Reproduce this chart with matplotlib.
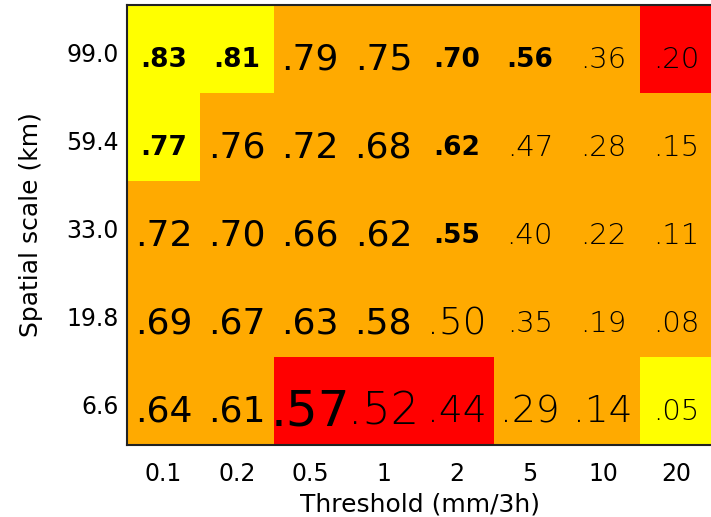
import matplotlib
matplotlib.use('Agg')
import matplotlib.pyplot as plt
import matplotlib.transforms as mtransforms
from matplotlib.colors import ListedColormap
import numpy as np

thresholds = ['0.1', '0.2', '0.5', '1', '2', '5', '10', '20']
scales = ['99.0', '59.4', '33.0', '19.8', '6.6']

# score table, rows from top (99.0 km) to bottom (6.6 km)
scores = [
    [.83, .81, .79, .75, .70, .56, .36, .20],
    [.77, .76, .72, .68, .62, .47, .28, .15],
    [.72, .70, .66, .62, .55, .40, .22, .11],
    [.69, .67, .63, .58, .50, .35, .19, .08],
    [.64, .61, .57, .52, .44, .29, .14, .05],
]

# cell class: 0 = yellow, 1 = orange, 2 = red
classes = [
    [0, 0, 1, 1, 1, 1, 1, 2],
    [0, 1, 1, 1, 1, 1, 1, 1],
    [1, 1, 1, 1, 1, 1, 1, 1],
    [1, 1, 1, 1, 1, 1, 1, 1],
    [1, 1, 2, 2, 2, 1, 1, 0],
]

# how each number is printed
label_kind = [
    ['B', 'B', 'L', 'L', 'B', 'B', 'T', 'T'],
    ['B', 'L', 'L', 'L', 'B', 'T', 'T', 'T'],
    ['L', 'L', 'L', 'L', 'B', 'T', 'T', 'T'],
    ['L', 'L', 'L', 'L', 'TL', 'T', 'T', 'T'],
    ['L', 'L', 'X', 'XT', 'TL', 'TL', 'TL', 'T'],
]

text_styles = {
    'B': dict(fontsize=19, fontweight='bold'),
    'L': dict(fontsize=26, fontweight='normal'),
    'T': dict(fontsize=21, fontweight='light'),
    'TL': dict(fontsize=27, fontweight='light'),
    'X': dict(fontsize=36, fontweight='normal'),
    'XT': dict(fontsize=32, fontweight='light'),
}


def fmt(v):
    return '{:.2f}'.format(v)[1:]


def createGraph():
    fig = plt.figure(figsize=(7.11, 5.17), dpi=100)
    ax = fig.add_axes([127 / 711, 72 / 517, 586 / 711, 440 / 517])

    cmap = ListedColormap(['#ffff00', '#ffaa00', '#ff0000'])
    ax.imshow(np.array(classes), cmap=cmap, vmin=-0.5, vmax=2.5,
              aspect='auto', interpolation='nearest')

    for i in range(len(scales)):
        for j in range(len(thresholds)):
            ax.text(j, i + 0.12, fmt(scores[i][j]), ha='center', va='center',
                    color='black', **text_styles[label_kind[i][j]])

    ax.set_xticks(range(len(thresholds)))
    ax.set_xticklabels(thresholds)
    ax.set_yticks(range(len(scales)))
    ax.set_yticklabels(scales)
    ax.tick_params(length=0, labelsize=17)
    ax.tick_params(axis='x', pad=12)
    ax.tick_params(axis='y', pad=6)
    # nudge the y labels down a little
    shift = mtransforms.ScaledTranslation(0, -0.03, fig.dpi_scale_trans)
    for t in ax.get_yticklabels():
        t.set_transform(t.get_transform() + shift)
    ax.set_xlim(-0.5, len(thresholds) - 0.5)
    ax.set_ylim(len(scales) - 0.5, -0.5)

    ax.set_xlabel('Threshold (mm/3h)', fontsize=18)
    ax.set_ylabel('Spatial scale (km)', fontsize=18)
    ax.xaxis.set_label_coords(0.5, -0.109)
    ax.yaxis.set_label_coords(-0.143, 0.5)

    for s in ax.spines.values():
        s.set_linewidth(1.5)
        s.set_color('#222222')

    fig.savefig('out.png', dpi=100)


if __name__ == '__main__':
    createGraph()
